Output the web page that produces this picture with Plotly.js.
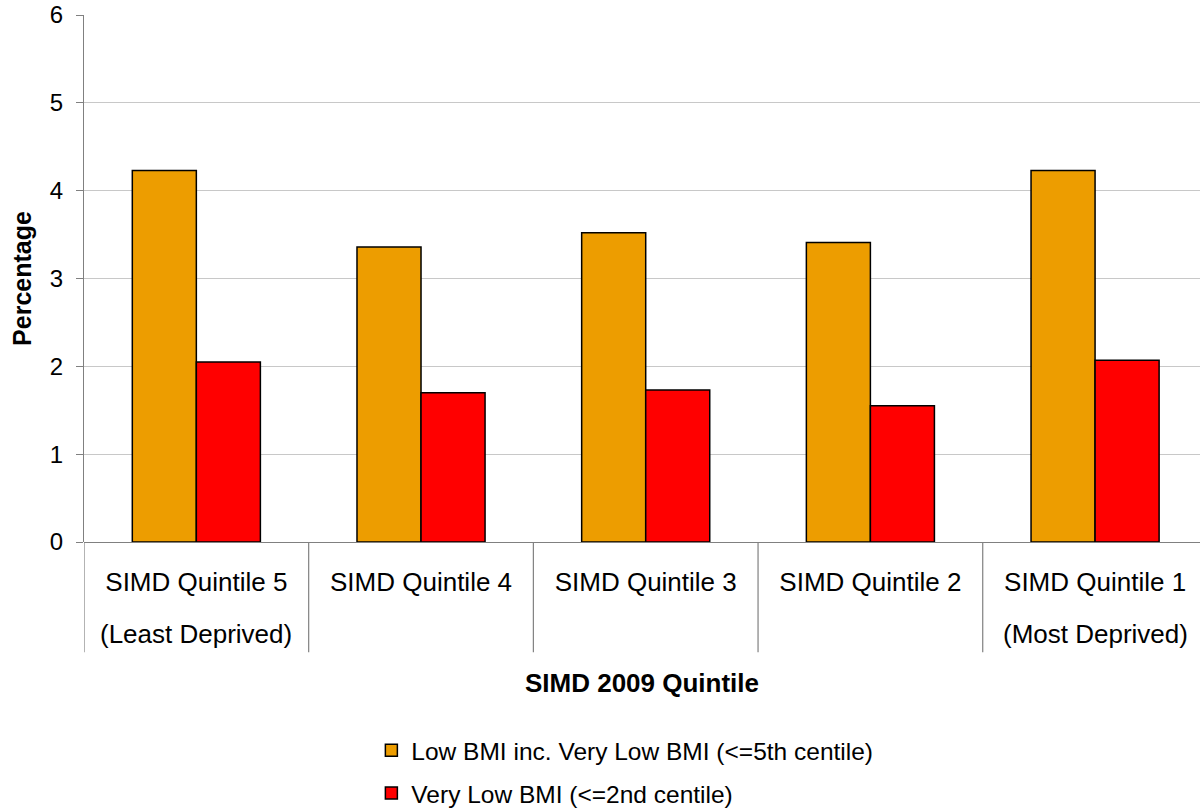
<!DOCTYPE html>
<html>
<head>
<meta charset="utf-8">
<script src="https://cdn.plot.ly/plotly-3.0.1.min.js"></script>
<style>html,body{margin:0;padding:0;background:#fff;}#chart{width:1200px;height:811px;}</style>
</head>
<body>
<div id="chart"></div>
<script>
const categories = ["SIMD Quintile 5", "SIMD Quintile 4", "SIMD Quintile 3", "SIMD Quintile 2", "SIMD Quintile 1"];
const subLabels = ["(Least Deprived)", "", "", "", "(Most Deprived)"];
const lowBMI = [4.23, 3.36, 3.52, 3.41, 4.23];
const veryLowBMI = [2.05, 1.70, 1.73, 1.55, 2.07];
const seriesNames = ["Low BMI inc. Very Low BMI (<=5th centile)", "Very Low BMI (<=2nd centile)"];
const yTicks = [0, 1, 2, 3, 4, 5, 6];

const FONT = "Liberation Sans, Arial, sans-serif";

const traces = [
  {type: "bar", x: categories, y: lowBMI, name: seriesNames[0], legendgroup: "a",
   marker: {color: "#ED9D00", line: {color: "#000", width: 1.5}}},
  {type: "bar", x: categories, y: veryLowBMI, name: seriesNames[1], legendgroup: "b",
   marker: {color: "#FF0000", line: {color: "#000", width: 1.5}}}
];

const shapes = [];
for (let i = 0; i <= categories.length; i++) {
  shapes.push({type: "line", xref: "x", yref: "paper", x0: i - 0.5, x1: i - 0.5, y0: 0, y1: -0.209,
    line: {color: "#808080", width: 1.2}});
}
const annotations = subLabels.map((t, i) => ({
  xref: "x", yref: "paper", x: categories[i], y: -0.175, yanchor: "middle", showarrow: false,
  text: t, font: {family: FONT, size: 26, color: "#000"}
}));

const layout = {
  width: 1200, height: 811,
  margin: {l: 84, r: 0, t: 15, b: 269, autoexpand: false},
  paper_bgcolor: "#fff", plot_bgcolor: "#fff",
  font: {family: FONT, size: 24, color: "#000"},
  barmode: "group", bargap: 0.43, bargroupgap: 0,
  showlegend: true,
  legend: {orientation: "v", x: 0.2575, xanchor: "left", y: -0.3525, yanchor: "top",
    font: {family: FONT, size: 24.5, color: "#000"}, tracegroupgap: 8, bgcolor: "rgba(0,0,0,0)"},
  xaxis: {
    type: "category", range: [-0.5, 4.467], showgrid: false, zeroline: false,
    showline: false, ticks: "", ticklabelstandoff: 22,
    tickfont: {family: FONT, size: 26, color: "#000"},
    title: {text: "<b>SIMD 2009 Quintile</b>", standoff: 77, font: {family: FONT, size: 26, color: "#000"}}
  },
  yaxis: {
    range: [0, 6], tickvals: yTicks, ticktext: yTicks.map(String),
    showgrid: true, gridcolor: "#C8C8C8", gridwidth: 1,
    zeroline: true, zerolinecolor: "#808080", zerolinewidth: 1.2,
    showline: true, linecolor: "#808080", linewidth: 1.2,
    ticks: "outside", ticklen: 7, tickcolor: "#808080", tickwidth: 1.2,
    ticklabelstandoff: 8,
    tickfont: {family: FONT, size: 24, color: "#000"},
    title: {text: "<b>Percentage</b>", standoff: 10, font: {family: FONT, size: 25, color: "#000"}}
  },
  shapes: shapes,
  annotations: annotations
};

Plotly.newPlot("chart", traces, layout, {displayModeBar: false, responsive: false});
</script>
</body>
</html>
